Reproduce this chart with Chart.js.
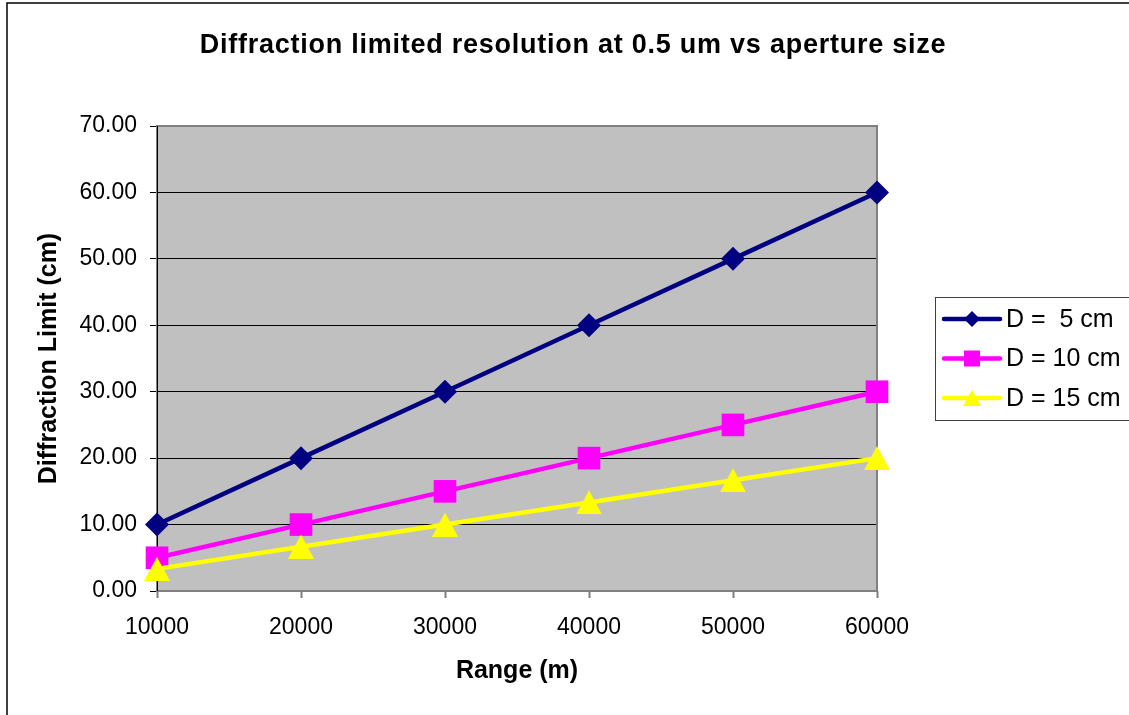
<!DOCTYPE html>
<html>
<head>
<meta charset="utf-8">
<script src="https://cdn.jsdelivr.net/npm/chart.js@4.4.1/dist/chart.umd.min.js"></script>
<style>
  html, body { margin: 0; padding: 0; background: #ffffff; }
  canvas { display: block; }
</style>
</head>
<body>
<canvas id="chart" width="1129" height="715"></canvas>
<script>
// Range (m) along the x axis
const ranges = [10000, 20000, 30000, 40000, 50000, 60000];
// Diffraction limit (cm) for each aperture diameter
const limitD5  = [10, 20, 30, 40, 50, 60];
const limitD10 = [5, 10, 15, 20, 25, 30];
const limitD15 = [3.33, 6.67, 10, 13.33, 16.67, 20];
const seriesNames = ['D =  5 cm', 'D = 10 cm', 'D = 15 cm'];
const seriesColors = ['#000080', '#FF00FF', '#FFFF00'];
const yMin = 0, yMax = 70, yStep = 10;

const chartTitle = 'Diffraction limited resolution at 0.5 um vs aperture size';
const xTitle = 'Range (m)';
const yTitle = 'Diffraction Limit (cm)';

const FONT = '"Liberation Sans", Arial, sans-serif';

// Upward triangle marker centred on its bounding box
function triangleMarker(w, h, color) {
  const c = document.createElement('canvas');
  c.width = w; c.height = h;
  const g = c.getContext('2d');
  g.fillStyle = color;
  g.beginPath();
  g.moveTo(w / 2, 0);
  g.lineTo(w, h);
  g.lineTo(0, h);
  g.closePath();
  g.fill();
  return c;
}

// Grey plot background, outer frame and chart title
const frame = {
  id: 'frame',
  beforeDraw(chart) {
    const { ctx, chartArea: a } = chart;
    ctx.save();
    ctx.fillStyle = '#C0C0C0';
    ctx.fillRect(a.left, a.top, a.right - a.left, a.bottom - a.top);
    ctx.strokeStyle = '#000000';
    ctx.lineWidth = 1.5;
    ctx.strokeRect(7, 3, 1400, 1000);
    ctx.restore();
  },
  beforeDatasetsDraw(chart) {
    const { ctx, chartArea: a } = chart;
    ctx.save();
    ctx.strokeStyle = '#808080';
    ctx.lineWidth = 2;
    ctx.strokeRect(a.left, a.top, a.right - a.left, a.bottom - a.top);
    ctx.strokeStyle = '#000000';
    ctx.lineWidth = 1;
    ctx.beginPath();
    ctx.moveTo(a.left + 0.5, a.top);
    ctx.lineTo(a.left + 0.5, a.bottom);
    ctx.stroke();
    ctx.restore();
  },
  afterDraw(chart) {
    const { ctx } = chart;
    ctx.save();
    ctx.fillStyle = '#000000';
    ctx.font = 'bold 27px ' + FONT;
    if ('letterSpacing' in ctx) ctx.letterSpacing = '0.75px';
    ctx.textAlign = 'center';
    ctx.textBaseline = 'middle';
    ctx.fillText(chartTitle, 573, 46);
    ctx.restore();
  }
};

// Boxed legend to the right of the plot
const sideLegend = {
  id: 'sideLegend',
  afterDraw(chart) {
    const { ctx } = chart;
    const box = { x: 935.5, y: 297.5, w: 300, h: 123 };
    const rows = [319, 358.5, 398];
    ctx.save();
    ctx.fillStyle = '#ffffff';
    ctx.fillRect(box.x, box.y, box.w, box.h);
    ctx.strokeStyle = '#404040';
    ctx.lineWidth = 1;
    ctx.strokeRect(box.x, box.y, box.w, box.h);
    chart.data.datasets.forEach((ds, i) => {
      const y = rows[i];
      const color = ds.borderColor;
      ctx.strokeStyle = color;
      ctx.lineWidth = 4.5;
      ctx.lineCap = 'round';
      ctx.beginPath();
      ctx.moveTo(944, y);
      ctx.lineTo(1000, y);
      ctx.stroke();
      ctx.fillStyle = color;
      ctx.beginPath();
      const mx = 972;
      if (i === 0) {
        ctx.moveTo(mx - 8, y); ctx.lineTo(mx, y - 8); ctx.lineTo(mx + 8, y); ctx.lineTo(mx, y + 8);
      } else if (i === 1) {
        ctx.rect(mx - 8, y - 8, 16, 16);
      } else {
        ctx.moveTo(mx, y - 8); ctx.lineTo(mx + 9, y + 8); ctx.lineTo(mx - 9, y + 8);
      }
      ctx.closePath();
      ctx.fill();
      ctx.fillStyle = '#000000';
      ctx.font = '25px ' + FONT;
      ctx.textAlign = 'left';
      ctx.textBaseline = 'middle';
      ctx.fillText(ds.label, 1006, y + 1);
    });
    ctx.restore();
  }
};

new Chart(document.getElementById('chart'), {
  type: 'line',
  data: {
    labels: ranges.map(String),
    datasets: [
      {
        label: seriesNames[0], data: limitD5, order: 2,
        borderColor: seriesColors[0], backgroundColor: seriesColors[0],
        pointStyle: 'rectRot', pointRadius: 12, pointBorderWidth: 0
      },
      {
        label: seriesNames[1], data: limitD10, order: 1,
        borderColor: seriesColors[1], backgroundColor: seriesColors[1],
        pointStyle: 'rect', pointRadius: 16, pointBorderWidth: 0
      },
      {
        label: seriesNames[2], data: limitD15, order: 0,
        borderColor: seriesColors[2], backgroundColor: seriesColors[2],
        pointStyle: triangleMarker(26, 24, seriesColors[2]), pointRadius: 13, pointBorderWidth: 0
      }
    ]
  },
  options: {
    responsive: false,
    animation: false,
    devicePixelRatio: 1,
    events: [],
    layout: { padding: { top: 126, right: 252, bottom: 0, left: 0 } },
    elements: {
      line: { borderWidth: 4.5, tension: 0, fill: false },
      point: { hoverRadius: 12 }
    },
    datasets: { line: { clip: false } },
    plugins: {
      legend: { display: false },
      title: { display: false },
      tooltip: { enabled: false }
    },
    scales: {
      x: {
        type: 'category',
        offset: false,
        afterFit(scale) { scale.height = 124; },
        border: { display: false },
        grid: {
          drawOnChartArea: false, drawTicks: true,
          tickLength: 7, tickWidth: 2, tickColor: '#808080'
        },
        ticks: {
          color: '#000000', padding: 16, maxRotation: 0, autoSkip: false,
          font: { family: FONT, size: 23 }
        },
        title: {
          display: true, text: xTitle, color: '#000000',
          font: { family: FONT, size: 25, weight: 'bold' },
          padding: { top: 0, bottom: 29 }
        }
      },
      y: {
        min: yMin, max: yMax,
        afterFit(scale) { scale.width = 157; },
        border: { display: false },
        grid: {
          color: '#000000', lineWidth: 1,
          tickLength: 7, tickColor: '#000000'
        },
        ticks: {
          stepSize: yStep, color: '#000000', padding: 13,
          font: { family: FONT, size: 23 },
          callback: (v) => Number(v).toFixed(2)
        },
        title: {
          display: true, text: yTitle, color: '#000000',
          font: { family: FONT, size: 25, weight: 'bold' },
          padding: { top: 34, bottom: 0 }
        }
      }
    }
  },
  plugins: [frame, sideLegend]
});
</script>
</body>
</html>
